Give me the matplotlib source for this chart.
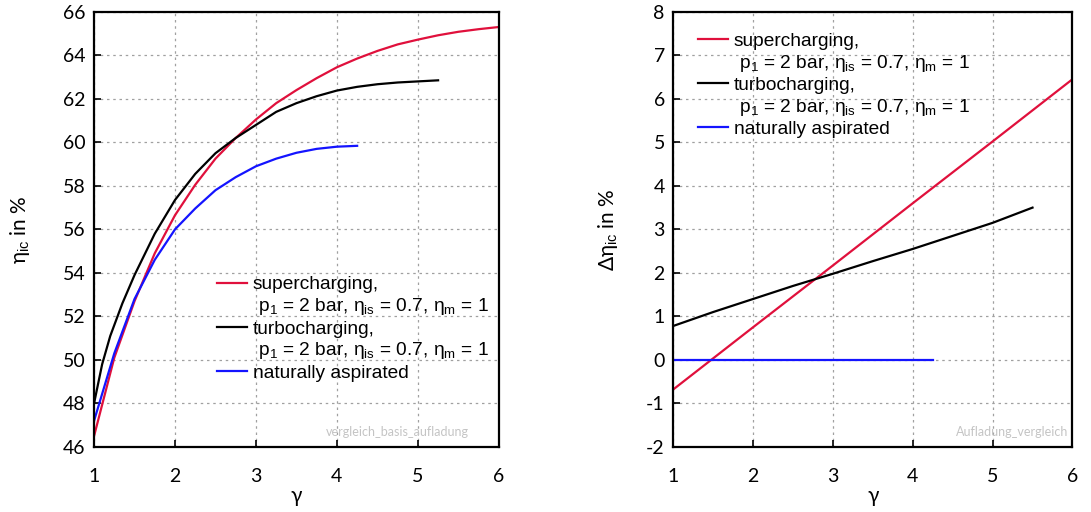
import matplotlib
matplotlib.use("Agg")
import matplotlib.pyplot as plt
from matplotlib.lines import Line2D

plt.rcParams['mathtext.fontset'] = 'custom'
plt.rcParams['mathtext.rm'] = 'Liberation Sans'
plt.rcParams['mathtext.it'] = 'Liberation Sans:italic'
plt.rcParams['axes.unicode_minus'] = False

# ---- data: left panel (eta_ic in %) ----
x_super = [1.0, 1.25, 1.5, 1.75, 2.0, 2.25, 2.5, 2.75, 3.0, 3.25, 3.5, 3.75, 4.0, 4.25, 4.5, 4.75, 5.0, 5.25, 5.5, 5.75, 6.0]
y_super = [46.5, 50.1, 52.7, 54.9, 56.65, 58.05, 59.25, 60.2, 61.05, 61.8, 62.4, 62.95, 63.45, 63.85, 64.2, 64.5, 64.72, 64.92, 65.08, 65.2, 65.3]
x_turbo = [1.0, 1.1, 1.2, 1.35, 1.5, 1.75, 2.0, 2.25, 2.5, 2.75, 3.0, 3.25, 3.5, 3.75, 4.0, 4.25, 4.5, 4.75, 5.0, 5.25]
y_turbo = [48.0, 49.8, 51.1, 52.6, 53.9, 55.8, 57.35, 58.55, 59.5, 60.2, 60.8, 61.4, 61.8, 62.12, 62.38, 62.55, 62.67, 62.75, 62.8, 62.85]
x_nat = [1.0, 1.25, 1.5, 1.75, 2.0, 2.25, 2.5, 2.75, 3.0, 3.25, 3.5, 3.75, 4.0, 4.25]
y_nat = [47.2, 50.3, 52.8, 54.6, 56.0, 56.96, 57.8, 58.4, 58.9, 59.25, 59.52, 59.7, 59.8, 59.84]

# ---- data: right panel (delta eta_ic in %) ----
dx_super = [1.0, 2.0, 3.0, 4.0, 5.0, 6.0]
dy_super = [-0.68, 0.75, 2.17, 3.6, 5.02, 6.45]
dx_turbo = [1.0, 1.5, 2.0, 2.5, 3.0, 3.5, 4.0, 4.5, 5.0, 5.5]
dy_turbo = [0.78, 1.1, 1.4, 1.7, 1.98, 2.27, 2.55, 2.85, 3.15, 3.5]
dx_nat = [1.0, 4.25]
dy_nat = [0.0, 0.0]

x_ticks = [1, 2, 3, 4, 5, 6]
left_yticks = list(range(46, 67, 2))
right_yticks = list(range(-2, 9, 1))

lab_super = "supercharging,"
lab_turbo = "turbocharging,"
lab_cond = " p$_1$ = 2 bar, η$_{\\mathrm{is}}$ = 0.7, η$_{\\mathrm{m}}$ = 1"
lab_nat = "naturally aspirated"

RED = '#e0103c'
BLUE = '#1414ff'
TICKFONT = ['Lato', 'DejaVu Sans']
LW = 1.6

fig = plt.figure(figsize=(10.91, 5.12), dpi=100)
axL = fig.add_axes([0.0862, 0.127, 0.371, 0.850])
axR = fig.add_axes([0.617, 0.127, 0.366, 0.850])


def style(ax, yticks):
    ax.set_xlim(1, 6)
    ax.set_ylim(yticks[0], yticks[-1])
    ax.set_xticks(x_ticks)
    ax.set_yticks(yticks)
    ax.grid(True, color='#a0a0a0', linestyle=(0, (2, 3)), linewidth=0.9)
    ax.tick_params(direction='in', length=5, width=1.2, labelsize=14)
    ax.tick_params(axis='y', pad=6)
    ax.tick_params(axis='x', pad=15)
    for lab in ax.get_xticklabels() + ax.get_yticklabels():
        lab.set_family(TICKFONT)
    for s in ax.spines.values():
        s.set_linewidth(1.6)
    ax.set_xlabel('γ', fontsize=15, family=TICKFONT, labelpad=1)


leg_kw = dict(loc='upper left', frameon=False,
              prop={'family': 'Liberation Sans', 'size': 13.8},
              handlelength=1.56, handletextpad=0.3, labelspacing=0.15,
              borderaxespad=0, borderpad=0)


def add_legend(ax, lines, anchor):
    blank = Line2D([], [], color='none')
    handles = [lines[0], blank, lines[1], blank, lines[2]]
    labels = [lab_super, lab_cond, lab_turbo, lab_cond, lab_nat]
    ax.legend(handles, labels, bbox_to_anchor=anchor, **leg_kw)


l1, = axL.plot(x_super, y_super, color=RED, lw=LW)
l2, = axL.plot(x_turbo, y_turbo, color='black', lw=LW)
l3, = axL.plot(x_nat, y_nat, color=BLUE, lw=LW)
style(axL, left_yticks)
axL.set_ylabel('η$_{\\mathrm{ic}}$ in %', fontsize=15, family=TICKFONT, labelpad=22)
add_legend(axL, [l1, l2, l3], (0.304, 0.393))
axL.text(0.925, 0.02, 'vergleich_basis_aufladung', transform=axL.transAxes,
         ha='right', va='bottom', color='#c4c4c4', fontsize=9, family=TICKFONT)

r1, = axR.plot(dx_super, dy_super, color=RED, lw=LW)
r2, = axR.plot(dx_turbo, dy_turbo, color='black', lw=LW)
r3, = axR.plot(dx_nat, dy_nat, color=BLUE, lw=LW)
style(axR, right_yticks)
axR.set_ylabel('Δη$_{\\mathrm{ic}}$ in %', fontsize=15, family=TICKFONT, labelpad=19)
add_legend(axR, [r1, r2, r3], (0.063, 0.953))
axR.text(0.99, 0.02, 'Aufladung_vergleich', transform=axR.transAxes,
         ha='right', va='bottom', color='#c4c4c4', fontsize=9, family=TICKFONT)

fig.savefig('out.png', dpi=100)
